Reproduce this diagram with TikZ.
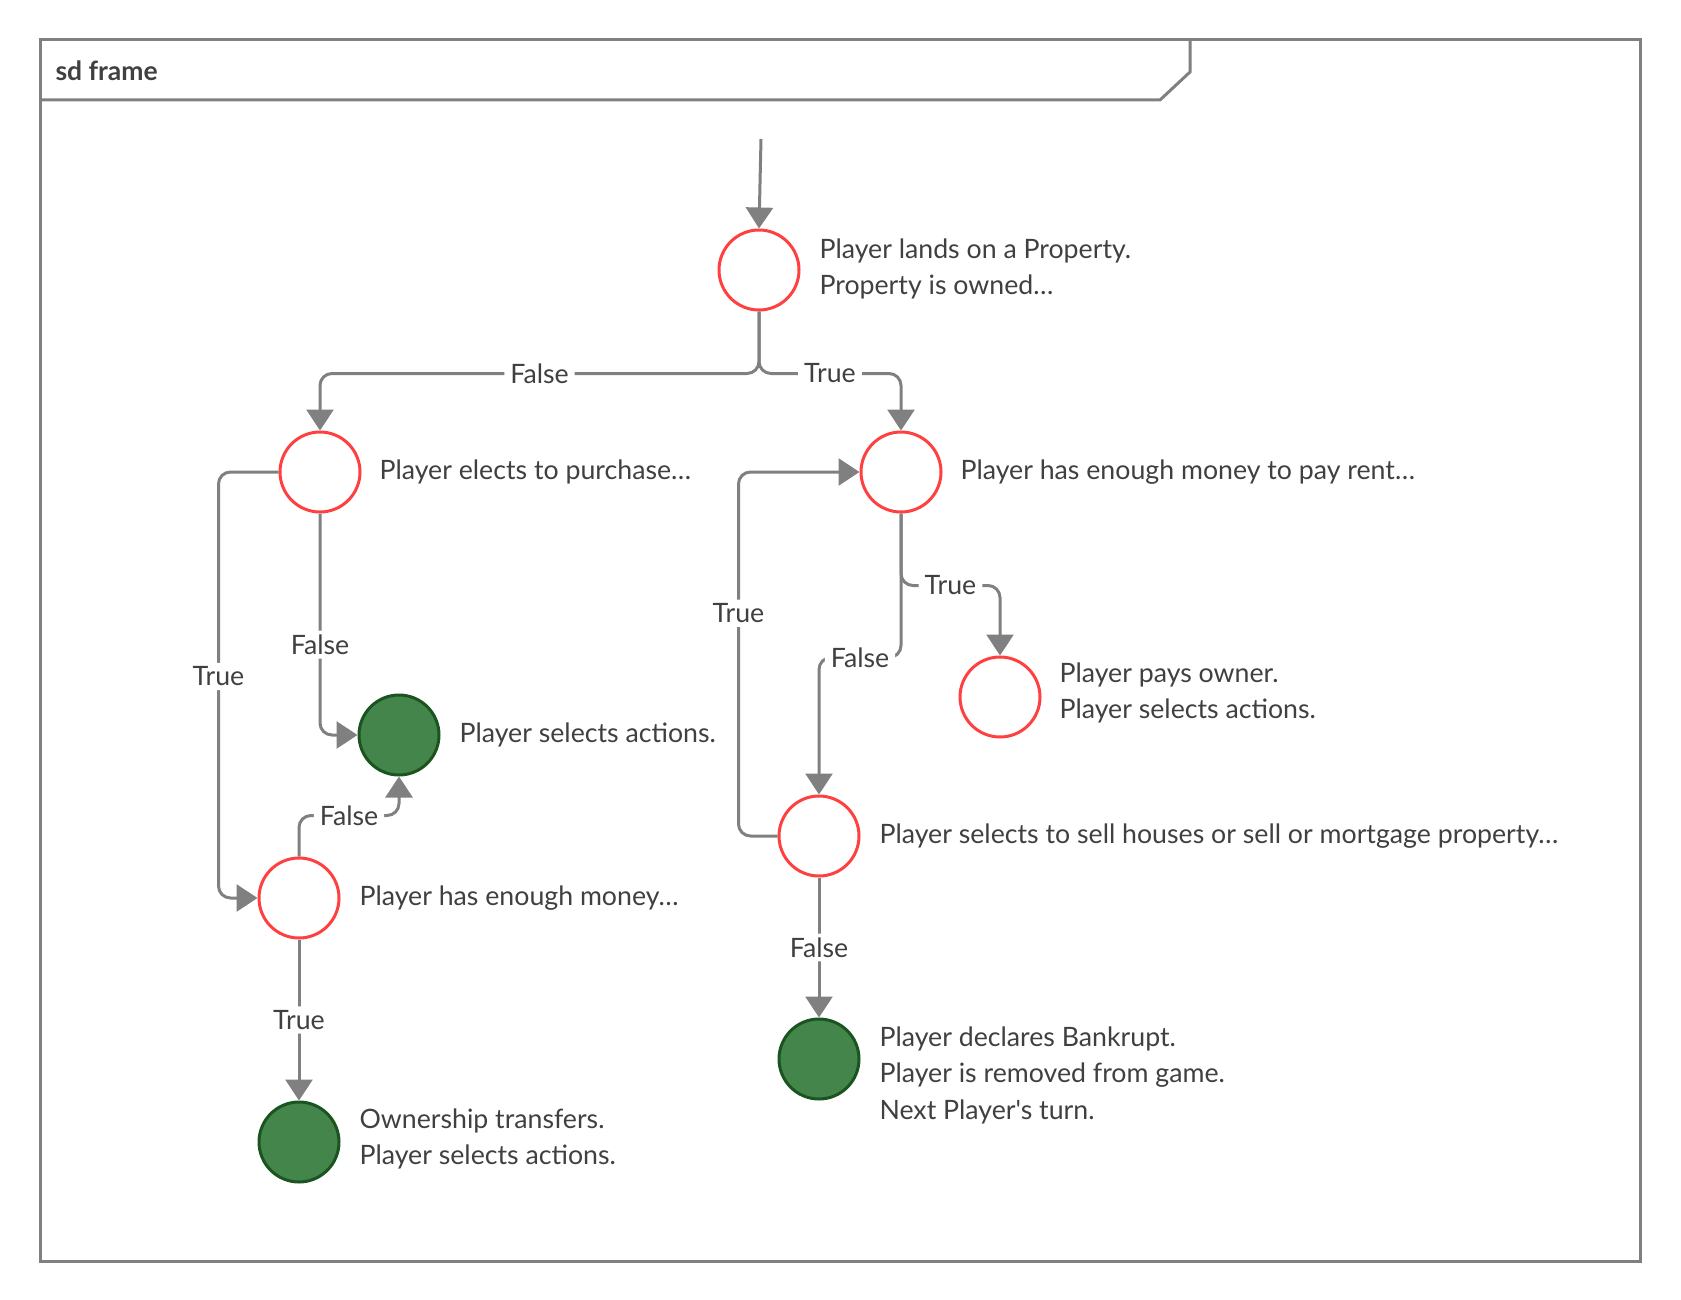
\documentclass[tikz,border=0pt]{standalone}
\usepackage{fontspec}
\setmainfont{Lato}[Ligatures=TeXOff]
\usetikzlibrary{arrows.meta}
\definecolor{lgrey}{RGB}{128,128,128}
\definecolor{redc}{RGB}{255,64,64}
\definecolor{greenf}{RGB}{67,133,74}
\definecolor{greend}{RGB}{27,84,33}
\definecolor{txt}{RGB}{64,64,64}
\begin{document}
\begin{tikzpicture}[x=1pt,y=-1pt,
  every node/.style={font=\fontsize{26.7}{36.5}\selectfont, text=txt},
  dec/.style={circle, draw=redc, line width=3pt, fill=white, minimum size=80pt, inner sep=0pt},
  fin/.style={circle, draw=greend, fill=greenf, line width=3pt, minimum size=80pt, inner sep=0pt},
  conn/.style={draw=lgrey, line width=3pt, rounded corners=12pt, -{Triangle[width=27pt,length=21pt]}},
  lbl/.style={fill=white, inner xsep=6pt, inner ysep=4pt},
  desc/.style={anchor=west, align=left}
]
\useasboundingbox (0,0) rectangle (1681,1300);
% frame
\draw[lgrey, line width=3pt] (40,40) rectangle (1640,1261);
\draw[lgrey, line width=3pt] (40,100) -- (1160,100) -- (1190,72) -- (1190,40);
\node[anchor=west, font=\fontsize{26.5}{30}\selectfont\bfseries] (title) at (52,71) {sd frame};
% nodes
\node[dec] (A) at (759,270) {};
\node[dec] (B) at (320,472) {};
\node[dec] (C) at (901,472) {};
\node[fin] (D) at (399,735) {};
\node[dec] (E) at (1000,697) {};
\node[dec] (F) at (299,898) {};
\node[dec] (G) at (819,836) {};
\node[fin] (H) at (299,1142) {};
\node[fin] (I) at (819,1059) {};
% texts
\node[desc] (tA) at (816,269) {Player lands on a Property.\\Property is owned…};
\node[desc] (tB) at (376,472) {Player elects to purchase…};
\node[desc] (tC) at (957,472) {Player has enough money to pay rent…};
\node[desc] (tD) at (456,735) {Player selects actions.};
\node[desc] (tE) at (1056,693) {Player pays owner.\\Player selects actions.};
\node[desc] (tF) at (356,898) {Player has enough money…};
\node[desc] (tG) at (876,836) {Player selects to sell houses or sell or mortgage property…};
\node[desc] (tH) at (356,1139) {Ownership transfers.\\Player selects actions.};
\node[desc] (tI) at (876,1075) {Player declares Bankrupt.\\Player is removed from game.\\Next Player's turn.};
% connectors
\coordinate (s) at (761,139);
\draw[conn] (s) -- (A.north);
\draw[conn] (A.south) -- ++(0,62) -| (B.north) node[lbl,pos=0.25]{False};
\draw[conn] (A.south) -- ++(0,62) -| (C.north) node[lbl,pos=0.25]{True};
\draw[conn] (B.west) -- ++(-60,0) |- (F.west) node[lbl,pos=0.24]{True};
\draw[conn] (B.south) |- (D.west) node[lbl,pos=0.296]{False};
\draw[conn] (F.north) -- ++(0,-41) -| (D.south) node[lbl,pos=0.25]{False};
\draw[conn] (F.south) -- (H.north) node[lbl,midway]{True};
\draw[conn] (C.south) -- ++(0,72) -| (E.north) node[lbl,pos=0.25]{True};
\draw[conn] (C.south) -- ++(0,144) -| (G.north) node[lbl,pos=0.25]{False};
\draw[conn] (G.west) -- ++(-39,0) |- (C.west) node[lbl,pos=0.306]{True};
\draw[conn] (G.south) -- (I.north) node[lbl,midway]{False};
\end{tikzpicture}
\end{document}
